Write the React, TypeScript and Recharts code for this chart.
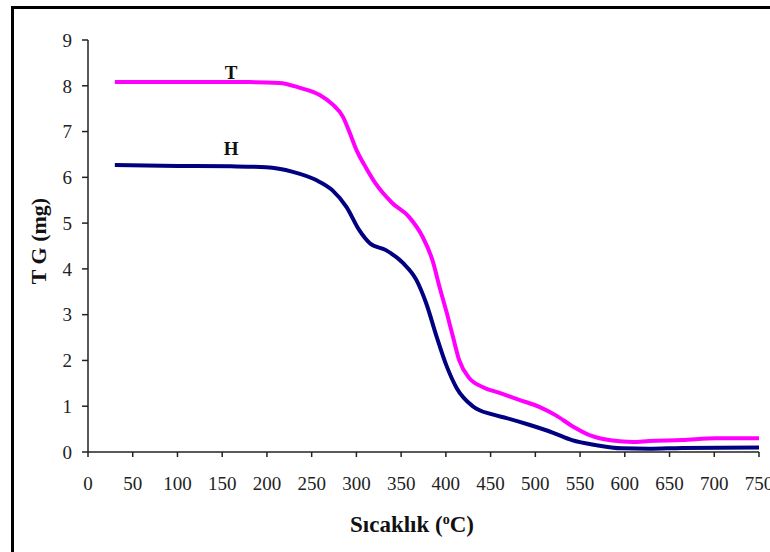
import React from 'react';
import { LineChart, Line, XAxis, YAxis, ReferenceDot, Label } from 'recharts';

// T sample (magenta)
const tempT = [30, 100, 180, 214, 236, 259, 273, 285, 292, 300, 311, 322, 340, 359, 374, 385, 393, 401, 408, 415, 426, 441, 460, 482, 505, 523, 541, 563, 586, 609, 627, 664, 702, 750];
const massT = [8.08, 8.08, 8.08, 8.06, 7.96, 7.8, 7.6, 7.32, 7.0, 6.6, 6.2, 5.85, 5.44, 5.13, 4.7, 4.19, 3.6, 3.04, 2.51, 2.0, 1.62, 1.42, 1.29, 1.14, 0.98, 0.8, 0.57, 0.35, 0.25, 0.22, 0.24, 0.26, 0.3, 0.3];

// H sample (navy)
const tempH = [30, 100, 160, 199, 229, 255, 273, 289, 303, 315, 333, 352, 367, 378, 390, 401, 412, 430, 452, 468, 494, 520, 541, 568, 597, 627, 664, 750];
const massH = [6.27, 6.25, 6.24, 6.22, 6.12, 5.94, 5.72, 5.35, 4.85, 4.56, 4.41, 4.13, 3.76, 3.25, 2.5, 1.87, 1.4, 1.0, 0.82, 0.74, 0.59, 0.42, 0.26, 0.15, 0.08, 0.07, 0.09, 0.1];

const xTicks = [0, 50, 100, 150, 200, 250, 300, 350, 400, 450, 500, 550, 600, 650, 700, 750];
const yTicks = [0, 1, 2, 3, 4, 5, 6, 7, 8, 9];

const dataT = tempT.map((t, i) => ({ temp: t, mass: massT[i] }));
const dataH = tempH.map((t, i) => ({ temp: t, mass: massH[i] }));

const FONT = 'Liberation Serif';
const tickStyle = { fontFamily: FONT, fontSize: 19, fill: '#222' };
const boldText = { fontFamily: FONT, fontWeight: 'bold' as const, fill: '#111' };

export default function App() {
  return (
    <div
      style={{
        position: 'absolute',
        left: 0,
        top: 0,
        width: 770,
        height: 552,
        overflow: 'hidden',
        background: '#fff',
        fontFamily: FONT,
      }}
    >
      <style>{'.recharts-wrapper svg text { font-family: "Liberation Serif", "Times New Roman", serif !important; }'}</style>
      <div
        style={{
          position: 'absolute',
          left: 11,
          top: 6,
          width: 800,
          height: 600,
          borderTop: '3px solid #000',
          borderLeft: '3px solid #000',
        }}
      />
      <div style={{ position: 'absolute', left: 0, top: 0 }}>
        <LineChart width={770} height={552} margin={{ top: 40, right: 11, left: 0, bottom: 0 }}>
          <XAxis
            type="number"
            dataKey="temp"
            domain={[0, 750]}
            ticks={xTicks}
            interval={0}
            height={100}
            tick={tickStyle}
            tickSize={5}
            tickMargin={20}
            axisLine={{ stroke: '#222', strokeWidth: 1.5 }}
            tickLine={{ stroke: '#222', strokeWidth: 1.5 }}
          >
            <Label
              content={() => (
                <text x={412} y={532} textAnchor="middle" fontFamily={FONT} fontSize={23} fontWeight="bold" fill="#111">
                  Sıcaklık (
                  <tspan dy={-8} fontSize={14}>o</tspan>
                  <tspan dy={8}>C)</tspan>
                </text>
              )}
            />
          </XAxis>
          <YAxis
            type="number"
            domain={[0, 9]}
            ticks={yTicks}
            interval={0}
            width={88}
            tick={tickStyle}
            tickSize={6}
            tickMargin={10}
            axisLine={{ stroke: '#222', strokeWidth: 1.5 }}
            tickLine={{ stroke: '#222', strokeWidth: 1.5 }}
          >
            <Label
              content={() => (
                <text
                  x={38}
                  y={241}
                  transform="rotate(-90 38 241)"
                  textAnchor="middle"
                  dominantBaseline="central"
                  fontFamily={FONT}
                  fontSize={22}
                  fontWeight="bold"
                  fill="#111"
                >
                  T G (mg)
                </text>
              )}
            />
          </YAxis>
          <Line
            data={dataT}
            dataKey="mass"
            type="monotone"
            stroke="#ff00ff"
            strokeWidth={4}
            dot={false}
            isAnimationActive={false}
          />
          <Line
            data={dataH}
            dataKey="mass"
            type="monotone"
            stroke="#000080"
            strokeWidth={4}
            dot={false}
            isAnimationActive={false}
          />
          <ReferenceDot
            x={160}
            y={8.29}
            r={0}
            ifOverflow="visible"
            label={{ value: 'T', position: 'center', style: { ...boldText, fontSize: 19 } }}
          />
          <ReferenceDot
            x={160}
            y={6.63}
            r={0}
            ifOverflow="visible"
            label={{ value: 'H', position: 'center', style: { ...boldText, fontSize: 19 } }}
          />
        </LineChart>
      </div>
    </div>
  );
}
